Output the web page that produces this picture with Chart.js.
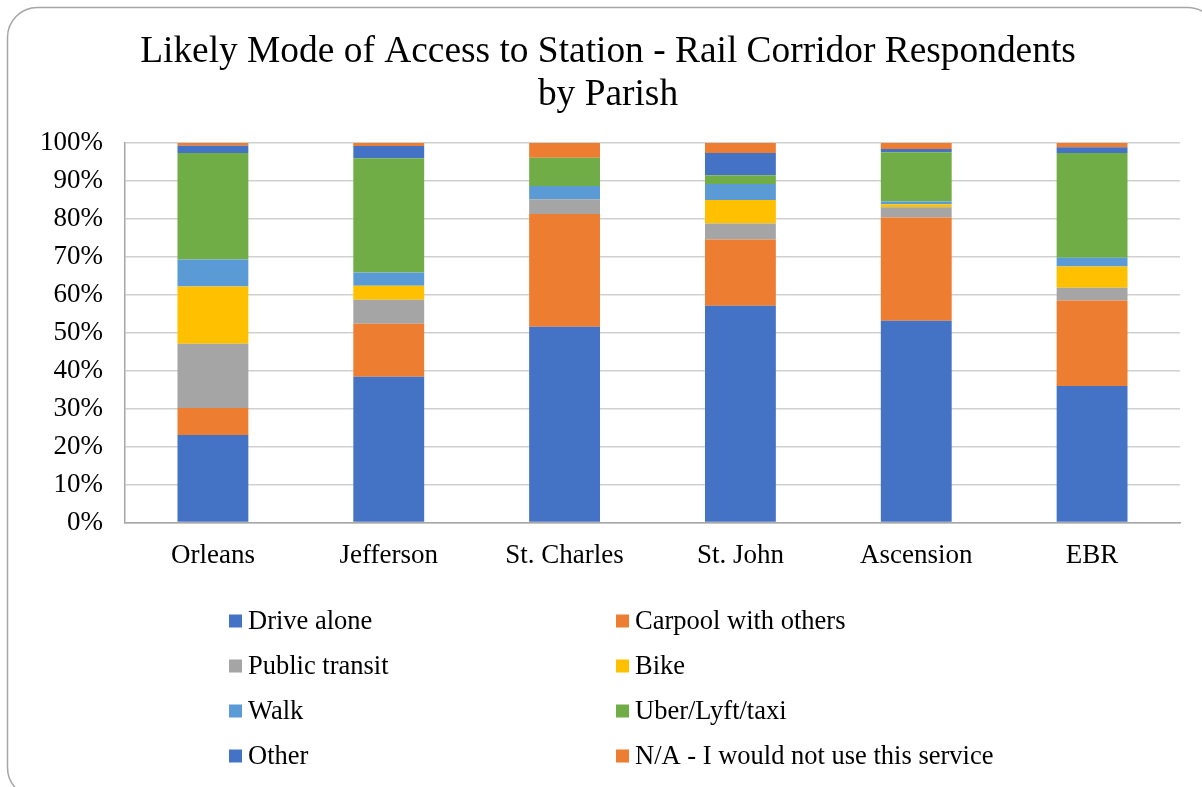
<!DOCTYPE html>
<html>
<head>
<meta charset="utf-8">
<title>Likely Mode of Access to Station</title>
<script src="https://cdn.jsdelivr.net/npm/chart.js@4/dist/chart.umd.min.js"></script>
<style>
  html, body { margin: 0; padding: 0; background: #ffffff; }
  #wrap { width: 1202px; height: 787px; position: relative; }
</style>
</head>
<body>
<div id="wrap"><canvas id="chart"></canvas></div>
<script>
// Parishes along the rail corridor
const categories = ['Orleans', 'Jefferson', 'St. Charles', 'St. John', 'Ascension', 'EBR'];

// Share of respondents (%) by likely mode of access
const driveAlone    = [23.1, 38.4, 51.6, 57.1, 53.2, 36.0];
const carpool       = [7.1, 14.0, 29.7, 17.5, 27.2, 22.5];
const publicTransit = [16.9, 6.3, 3.9, 4.2, 2.7, 3.4];
const bike          = [15.1, 3.7, 0, 6.2, 0.8, 5.6];
const walk          = [7.1, 3.5, 3.5, 4.2, 0.7, 2.3];
const uberLyftTaxi  = [28.1, 30.1, 7.4, 2.3, 13.0, 27.6];
const other         = [1.9, 3.2, 0, 5.9, 0.8, 1.5];
const wouldNotUse   = [0.7, 0.8, 3.9, 2.6, 1.6, 1.1];

const seriesLabels = ['Drive alone', 'Carpool with others', 'Public transit', 'Bike',
                      'Walk', 'Uber/Lyft/taxi', 'Other', 'N/A - I would not use this service'];
const seriesValues = [driveAlone, carpool, publicTransit, bike, walk, uberLyftTaxi, other, wouldNotUse];
const seriesColors = ['#4472C4', '#ED7D31', '#A5A5A5', '#FFC000', '#5B9BD5', '#70AD47', '#4472C4', '#ED7D31'];

const titleLines = ['Likely Mode of Access to Station - Rail Corridor Respondents', 'by Parish'];
const yTicks = [0, 10, 20, 30, 40, 50, 60, 70, 80, 90, 100];

const SERIF = "'Liberation Serif', 'Times New Roman', serif";

// Rounded frame around the whole chart
const framePlugin = {
  id: 'frame',
  beforeDraw(chart) {
    const ctx = chart.ctx;
    ctx.save();
    ctx.fillStyle = '#ffffff';
    ctx.fillRect(0, 0, chart.width, chart.height);
    const x = 7.5, y = 7.5, w = 1210, h = 790, r = 30;
    ctx.beginPath();
    ctx.moveTo(x + r, y);
    ctx.lineTo(x + w - r, y);
    ctx.arcTo(x + w, y, x + w, y + r, r);
    ctx.lineTo(x + w, y + h - r);
    ctx.arcTo(x + w, y + h, x + w - r, y + h, r);
    ctx.lineTo(x + r, y + h);
    ctx.arcTo(x, y + h, x, y + h - r, r);
    ctx.lineTo(x, y + r);
    ctx.arcTo(x, y, x + r, y, r);
    ctx.closePath();
    ctx.strokeStyle = '#a6a6a6';
    ctx.lineWidth = 1.5;
    ctx.stroke();
    ctx.restore();
  }
};

// Two-column legend below the plot, filled row by row
const gridLegendPlugin = {
  id: 'gridLegend',
  afterDraw(chart) {
    const ctx = chart.ctx;
    const colX = [229, 616];
    const rowY = [621, 666, 711, 756];
    const box = 13;
    ctx.save();
    ctx.font = '26.5px ' + SERIF;
    ctx.textBaseline = 'middle';
    ctx.textAlign = 'left';
    chart.data.datasets.forEach((ds, i) => {
      const cx = colX[i % 2];
      const cy = rowY[Math.floor(i / 2)];
      ctx.fillStyle = ds.backgroundColor;
      ctx.fillRect(cx, cy - box / 2, box, box);
      ctx.fillStyle = '#000000';
      ctx.fillText(ds.label, cx + 19, cy + 1);
    });
    ctx.restore();
  }
};

new Chart(document.getElementById('chart'), {
  type: 'bar',
  data: {
    labels: categories,
    datasets: seriesLabels.map((label, i) => ({
      label: label,
      data: seriesValues[i],
      backgroundColor: seriesColors[i],
      borderWidth: 0,
      categoryPercentage: 1.0,
      barPercentage: 0.403
    }))
  },
  options: {
    responsive: true,
    maintainAspectRatio: false,
    animation: false,
    layout: { padding: { left: 36, right: 22, top: 0, bottom: 198 } },
    plugins: {
      legend: { display: false },
      tooltip: { enabled: false },
      title: {
        display: true,
        text: titleLines,
        color: '#000000',
        font: { family: SERIF, size: 37.4, weight: 'normal', lineHeight: 1.15 },
        padding: { top: 31, bottom: 26 }
      }
    },
    scales: {
      x: {
        stacked: true,
        grid: { display: false, drawTicks: false },
        border: { display: true, color: '#a6a6a6', width: 1.5 },
        ticks: { color: '#000000', padding: 17, font: { family: SERIF, size: 27 } }
      },
      y: {
        stacked: true,
        min: 0,
        max: 100,
        afterBuildTicks(scale) { scale.ticks = yTicks.map(v => ({ value: v })); },
        afterFit(scale) { scale.width = 89; },
        grid: { color: '#d0d0d0', lineWidth: 1.5, drawTicks: false },
        border: { display: true, color: '#a6a6a6', width: 1.5 },
        ticks: {
          color: '#000000',
          padding: 22,
          font: { family: SERIF, size: 27 },
          callback: v => v + '%'
        }
      }
    }
  },
  plugins: [framePlugin, gridLegendPlugin]
});
</script>
</body>
</html>
